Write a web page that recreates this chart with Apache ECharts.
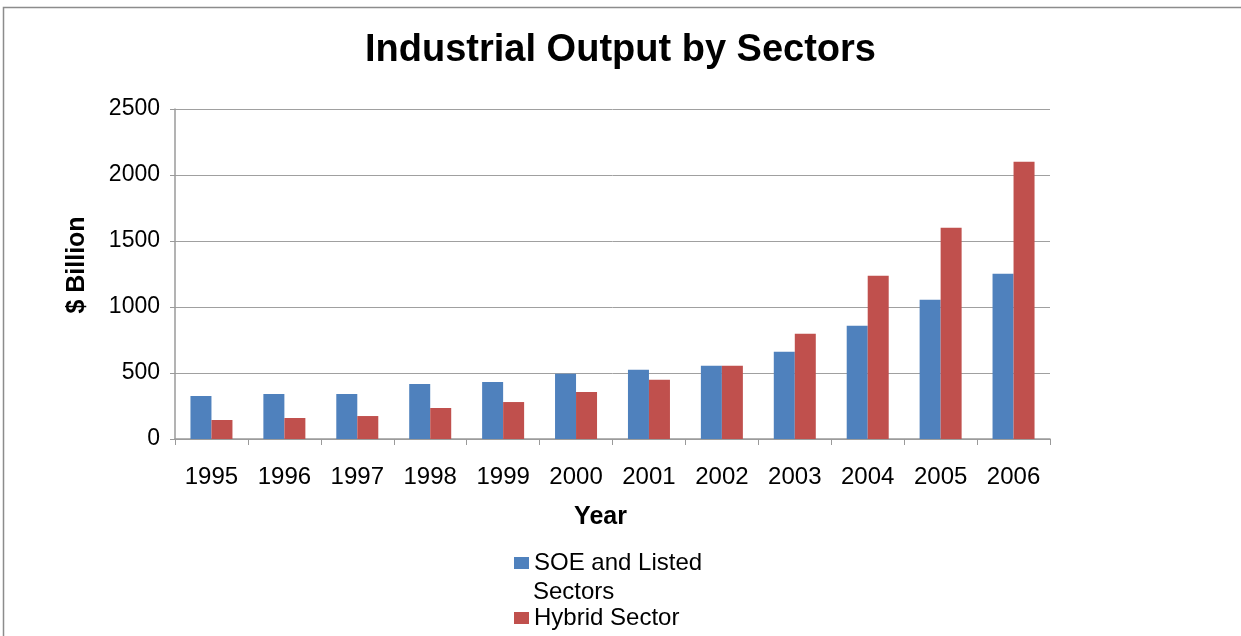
<!DOCTYPE html>
<html><head><meta charset="utf-8">
<script src="https://cdn.jsdelivr.net/npm/echarts@6/dist/echarts.min.js"></script>
<style>html,body{margin:0;padding:0;background:#fff}#c{width:1241px;height:636px}</style>
</head><body><div id="c"></div>
<script>
var years = ['1995','1996','1997','1998','1999','2000','2001','2002','2003','2004','2005','2006'];
var soeListed = [326, 341, 341, 417, 432, 495, 525, 555, 661, 858, 1055, 1252];
var hybrid = [144, 159, 174, 235, 280, 356, 449, 555, 797, 1237, 1600, 2100];
var seriesNames = ['SOE and Listed Sectors', 'Hybrid Sector'];

var F = '"Liberation Sans", Arial, sans-serif';
var chart = echarts.init(document.getElementById('c'));
chart.setOption({
  animation: false,
  backgroundColor: '#fff',
  title: {
    text: 'Industrial Output by Sectors', left: 'center', top: 27,
    textStyle: {fontFamily: F, fontSize: 38, fontWeight: 'bold', color: '#000'}
  },
  graphic: [
    {type: 'polyline', shape: {points: [[3.5, 640], [3.5, 7.5], [1245, 7.5]]},
     style: {fill: 'none', stroke: '#8c8c8c', lineWidth: 1.5}, silent: true},
    {type: 'text', left: 533, top: 580, style: {text: 'Sectors', font: '24px "Liberation Sans", Arial, sans-serif', fill: '#000'}}
  ],
  legend: [
    {data: [seriesNames[0]], orient: 'vertical', left: 509, top: 546, itemWidth: 15, itemHeight: 12,
     formatter: function(){ return 'SOE and Listed'; },
     textStyle: {fontFamily: F, fontSize: 24, color: '#000'}, icon: 'rect'},
    {data: [seriesNames[1]], orient: 'vertical', left: 509, top: 601, itemWidth: 15, itemHeight: 12,
     textStyle: {fontFamily: F, fontSize: 24, color: '#000'}, icon: 'rect'}
  ],
  grid: {left: 175, right: 191, top: 109, bottom: 197, containLabel: false},
  xAxis: {
    type: 'category', data: years,
    name: 'Year', nameLocation: 'middle', nameGap: 66,
    nameTextStyle: {fontFamily: F, fontSize: 25, fontWeight: 'bold', color: '#000', padding: [0, 24, 0, 0]},
    axisLine: {lineStyle: {color: '#9a9a9a', width: 1.5}},
    axisTick: {show: true, length: 6, lineStyle: {color: '#9a9a9a'}},
    axisLabel: {fontFamily: F, fontSize: 24, color: '#000', margin: 26}
  },
  yAxis: {
    type: 'value', min: 0, max: 2500, interval: 500,
    name: '$ Billion', nameLocation: 'middle', nameGap: 85, nameRotate: 90,
    nameTextStyle: {fontFamily: F, fontSize: 25, fontWeight: 'bold', color: '#000', padding: [0, 0, 0, 18]},
    axisLine: {show: true, lineStyle: {color: '#9a9a9a', width: 1.5}},
    axisTick: {show: true, length: 5, lineStyle: {color: '#9a9a9a'}},
    axisLabel: {fontFamily: F, fontSize: 23, color: '#000', margin: 15, formatter: function(v){ return String(v); }},
    splitLine: {lineStyle: {color: '#a0a0a0', width: 1}}
  },
  series: [
    {name: seriesNames[0], type: 'bar', data: soeListed, barWidth: 21, barGap: '0%', itemStyle: {color: '#4F81BD'}},
    {name: seriesNames[1], type: 'bar', data: hybrid, barWidth: 21, barGap: '0%', itemStyle: {color: '#C0504D'}}
  ]
});
</script></body></html>
